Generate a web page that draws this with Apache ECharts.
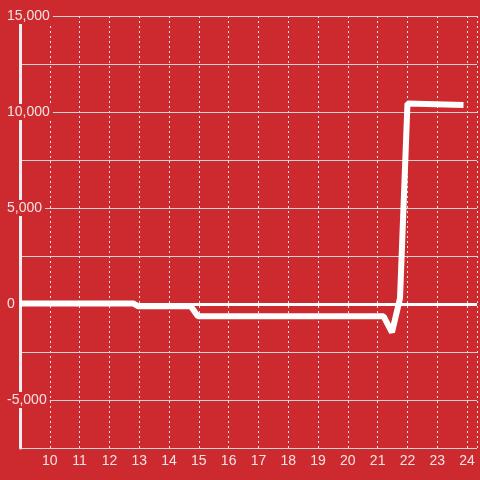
<!DOCTYPE html>
<html>
<head>
<meta charset="utf-8">
<script src="https://cdn.jsdelivr.net/npm/echarts@6/dist/echarts.min.js"></script>
<style>
  html, body { margin: 0; padding: 0; background: #cc2a2f; }
  #main { width: 480px; height: 480px; }
</style>
</head>
<body>
<div id="main"></div>
<script>
// hours of the day and the running value
const hours = [9, 12.8, 12.97, 14.73, 14.97, 21.2, 21.48, 21.75, 22.0, 23.88];
const values = [30, 30, -120, -120, -640, -640, -1480, 300, 10440, 10370];

const chart = echarts.init(document.getElementById('main'));

const option = {
  backgroundColor: '#cc2a2f',
  animation: false,
  grid: { left: 20, right: 0, top: 16, bottom: 32 },
  xAxis: {
    type: 'value',
    min: 9,
    max: 24.333,
    interval: 1,
    axisLine: { show: false },
    axisTick: { show: false },
    axisLabel: {
      color: '#f2e4e4',
      fontSize: 14,
      margin: 6,
      formatter: v => (Number.isInteger(v) && v > 9 ? String(v) : '')
    },
    splitLine: {
      show: true,
      lineStyle: { color: '#e6e6e6', width: 1, type: [2, 3] }
    }
  },
  yAxis: {
    type: 'value',
    min: -7500,
    max: 15000,
    interval: 2500,
    axisLine: { show: true, lineStyle: { color: '#eeeeee', width: 3 } },
    axisTick: { show: false },
    axisLabel: {
      color: '#f2e4e4',
      fontSize: 14,
      align: 'left',
      margin: 13,
      backgroundColor: '#cc2a2f',
      padding: [1, 3, 1, 0],
      formatter: v => (v % 5000 === 0 && v !== -7500 ? v.toLocaleString('en-US') : '')
    },
    splitLine: {
      show: true,
      lineStyle: { color: '#d4d4d4', width: 1 }
    }
  },
  series: [
    {
      type: 'line',
      data: hours.map((h, i) => [h, values[i]]),
      symbol: 'none',
      lineStyle: { color: '#ffffff', width: 6 },
      markLine: {
        silent: true,
        symbol: 'none',
        label: { show: false },
        lineStyle: { color: '#ffffff', width: 3, type: 'solid' },
        data: [{ yAxis: 0 }]
      }
    }
  ]
};

chart.setOption(option);
</script>
</body>
</html>
